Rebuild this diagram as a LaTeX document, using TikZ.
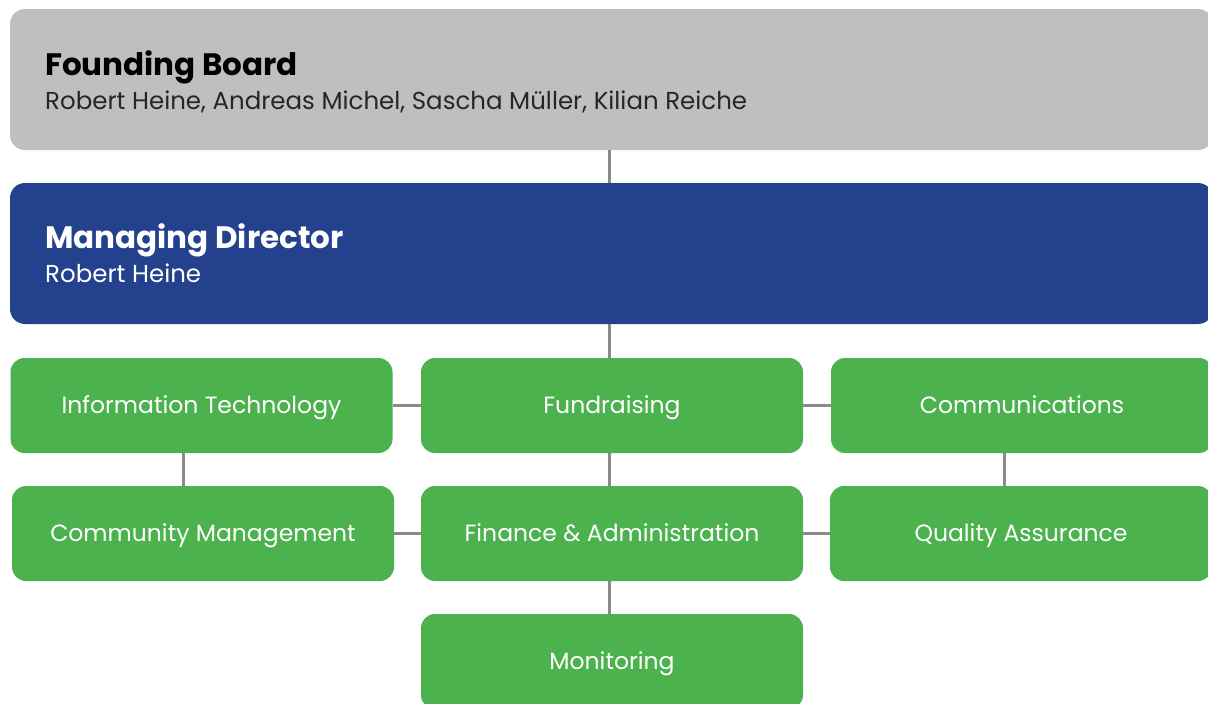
\documentclass[tikz,border=0pt]{standalone}
\usepackage{fontspec}
\setmainfont{Poppins}
\definecolor{boardgray}{HTML}{BFBFBF}
\definecolor{mdblue}{HTML}{24418E}
\definecolor{unitgreen}{HTML}{4BB24E}
\definecolor{linkgray}{HTML}{8A8A8A}
\begin{document}
\begin{tikzpicture}[x=1pt,y=-1pt,
  bigbox/.style={rounded corners=15pt, minimum width=1203pt, minimum height=141pt, inner sep=0pt, draw=none},
  unit/.style={rounded corners=14pt, fill=unitgreen, minimum width=382pt, minimum height=95pt, inner sep=0pt,
     text=white, font=\fontsize{23.5}{26}\selectfont, text height=16.5pt, text depth=0pt},
  link/.style={draw=linkgray, line width=3pt},
  title/.style={anchor=base west, inner sep=0pt, font=\fontsize{31}{34}\selectfont\bfseries},
  sub/.style={anchor=base west, inner sep=0pt, font=\fontsize{24.5}{27}\selectfont}]
\clip (0,0) rectangle (1208,704);
\fill[white] (0,0) rectangle (1208,704);
\node[bigbox, fill=boardgray] (board) at (611.5,79.5) {};
\node[bigbox, fill=mdblue] (md) at (611.5,253.5) {};
\node[unit] (it) at (201.5,405.5) {Information Technology};
\node[unit] (fund) at (612,405.5) {Fundraising};
\node[unit] (comm) at (1022,405.5) {Communications};
\node[unit] (cm) at (203,533.5) {Community Management};
\node[unit] (fin) at (612,533.5) {Finance \& Administration};
\node[unit] (qa) at (1021,533.5) {Quality Assurance};
\node[unit] (mon) at (612,661.5) {Monitoring};
\node[title, text=black] (fbt) at (45,75) {Founding Board};
\node[sub, text=black!85] (fbs) at (45,109) {Robert Heine, Andreas Michel, Sascha Müller, Kilian Reiche};
\node[title, text=white] (mdt) at (45,248) {Managing Director};
\node[sub, text=white] (mds) at (45,282) {Robert Heine};
\draw[link] (board.south -| 609,0) -- (md.north -| 609,0);
\draw[link] (md.south -| 609,0) -- (fund.north -| 609,0);
\draw[link] (fund.south -| 609,0) -- (fin.north -| 609,0);
\draw[link] (fin.south -| 609,0) -- (mon.north -| 609,0);
\draw[link] (it.east) -- (fund.west);
\draw[link] (fund.east) -- (comm.west);
\draw[link] (cm.east) -- (fin.west);
\draw[link] (fin.east) -- (qa.west);
\draw[link] (it.south -| 183,0) -- (cm.north -| 183,0);
\draw[link] (comm.south -| 1004,0) -- (qa.north -| 1004,0);
\end{tikzpicture}
\end{document}
